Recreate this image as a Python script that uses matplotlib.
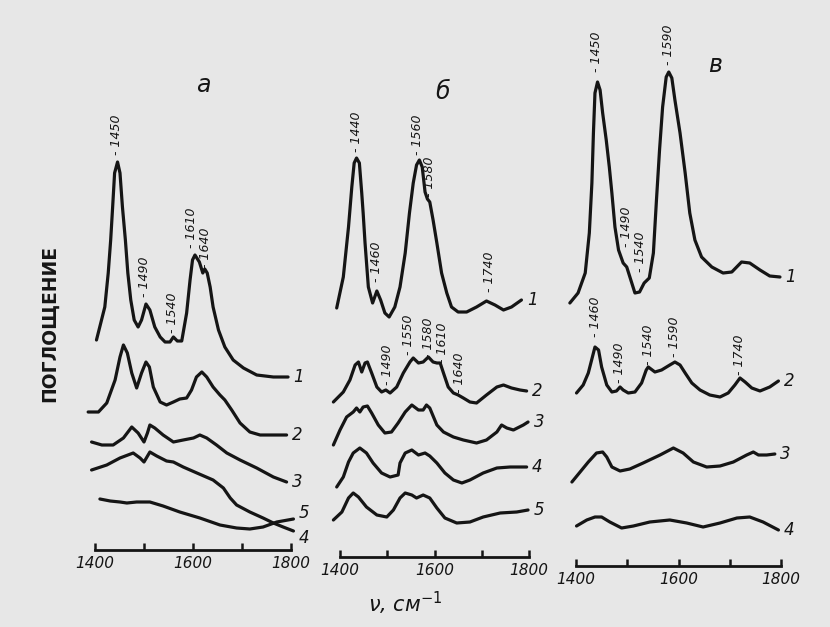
import matplotlib
matplotlib.use("Agg")
import matplotlib.pyplot as plt

# ---------- panel a ----------
a1_wn = [1403, 1420, 1427, 1432, 1436, 1440, 1446, 1451, 1456, 1462, 1467, 1473, 1480, 1488, 1495, 1504, 1512,
         1522, 1533, 1543, 1553, 1560, 1568, 1577, 1587, 1594, 1599, 1604, 1613, 1620, 1624, 1629, 1635, 1641,
         1652, 1665, 1682, 1703, 1730, 1764, 1794]
a1 = [210, 243, 277, 310, 343, 377, 388, 377, 343, 310, 277, 250, 230, 223, 230, 246, 240,
      223, 213, 208, 208, 213, 209, 209, 237, 270, 290, 295, 288, 277, 281, 277, 263, 243,
      220, 203, 190, 182, 175, 173, 173]
a2_wn = [1386, 1407, 1424, 1441, 1451, 1458, 1466, 1475, 1485, 1495, 1504, 1511, 1519, 1533, 1546, 1560, 1573,
         1587, 1597, 1607, 1618, 1628, 1641, 1655, 1665, 1679, 1696, 1716, 1737, 1764, 1791]
a2 = [138, 138, 147, 170, 193, 205, 197, 177, 162, 177, 188, 183, 163, 148, 145, 148, 151,
      152, 160, 173, 178, 173, 163, 155, 150, 140, 127, 118, 115, 115, 115]
a3_wn = [1393, 1414, 1437, 1458, 1475, 1488, 1500, 1507, 1512, 1522, 1539, 1560, 1580, 1601, 1614, 1628, 1648,
         1669, 1696, 1730, 1764, 1791]
a3 = [108, 105, 105, 112, 123, 117, 108, 117, 125, 122, 115, 108, 110, 112, 115, 112, 105,
      97, 90, 82, 73, 68]
a4_wn = [1393, 1424, 1451, 1478, 1492, 1500, 1512, 1526, 1546, 1560, 1580, 1608, 1641, 1662, 1676, 1689, 1716,
         1743, 1764, 1784, 1805]
a4 = [80, 85, 92, 97, 92, 88, 98, 94, 89, 88, 83, 77, 70, 62, 52, 45, 38,
      32, 27, 23, 19]
a5_wn = [1410, 1431, 1451, 1465, 1485, 1512, 1539, 1573, 1614, 1655, 1689, 1716, 1743, 1771, 1805]
a5 = [51, 49, 48, 47, 48, 48, 44, 38, 32, 25, 22, 21, 23, 28, 31]
a_marks = [("1450", 1443, 395), ("1490", 1502, 253), ("1540", 1558, 217),
           ("1610", 1597, 302), ("1640", 1626, 282)]
a_num_dy = [0, 0, 0, -5, 4]

# ---------- panel б ----------
b1_wn = [1393, 1407, 1418, 1425, 1430, 1435, 1441, 1446, 1449, 1453, 1460, 1469, 1478, 1486, 1495, 1504, 1516,
         1527, 1538, 1547, 1555, 1562, 1568, 1574, 1580, 1585, 1590, 1597, 1605, 1615, 1626, 1636, 1650,
         1668, 1689, 1710, 1728, 1746, 1763, 1784]
b1 = [249, 280, 330, 370, 394, 399, 394, 364, 344, 314, 270, 254, 266, 257, 244, 240, 250,
      270, 304, 344, 374, 392, 397, 390, 365, 358, 355, 337, 314, 284, 264, 250, 245,
      245, 250, 256, 252, 247, 250, 257]
b2_wn = [1386, 1407, 1421, 1432, 1439, 1446, 1453, 1458, 1467, 1478, 1488, 1497, 1506, 1520, 1534, 1548, 1555,
         1566, 1576, 1587, 1597, 1605, 1612, 1619, 1629, 1640, 1650, 1661, 1675, 1689, 1710, 1732, 1746,
         1763, 1781, 1795]
b2 = [155, 165, 177, 192, 195, 185, 194, 195, 184, 170, 165, 167, 164, 170, 184, 195, 199,
      194, 195, 200, 195, 194, 194, 184, 170, 164, 162, 159, 155, 154, 162, 170, 172,
      169, 167, 166]
b3_wn = [1386, 1400, 1414, 1428, 1435, 1442, 1449, 1458, 1467, 1481, 1495, 1509, 1523, 1538, 1552, 1566, 1576,
         1583, 1590, 1605, 1619, 1640, 1661, 1689, 1710, 1732, 1742, 1753, 1767, 1788, 1798]
b3 = [112, 127, 140, 145, 149, 145, 150, 151, 144, 132, 124, 125, 134, 145, 152, 147, 147,
      152, 149, 132, 125, 120, 117, 114, 117, 125, 132, 129, 127, 132, 135]
b4_wn = [1393, 1407, 1418, 1428, 1442, 1456, 1470, 1488, 1506, 1523, 1527, 1538, 1552, 1566, 1580, 1590, 1605,
         1622, 1640, 1658, 1675, 1703, 1732, 1760, 1795]
b4 = [70, 80, 95, 104, 109, 104, 94, 84, 80, 82, 94, 104, 107, 102, 104, 101, 94,
      84, 77, 74, 77, 84, 89, 90, 90]
b5_wn = [1386, 1404, 1418, 1428, 1439, 1456, 1478, 1499, 1513, 1527, 1538, 1552, 1562, 1576, 1590, 1605, 1622,
         1647, 1675, 1703, 1739, 1774, 1798]
b5 = [37, 45, 59, 64, 60, 50, 42, 40, 47, 59, 64, 62, 59, 62, 59, 49, 39,
      34, 35, 40, 44, 45, 47]
b_marks = [("1440", 1434, 405), ("1460", 1478, 275), ("1560", 1564, 402), ("1580", 1589, 360),
           ("1740", 1716, 265), ("1490", 1500, 172), ("1550", 1546, 202), ("1580", 1588, 199),
           ("1610", 1616, 194), ("1640", 1652, 164)]
b_num_dy = [0, 0, 0, 0, 0]

# ---------- panel в ----------
c1_wn = [1388, 1404, 1418, 1426, 1431, 1434, 1437, 1442, 1447, 1452, 1459, 1465, 1470, 1476, 1483, 1492, 1499,
         1507, 1515, 1524, 1533, 1543, 1551, 1557, 1563, 1569, 1576, 1581, 1587, 1593, 1603, 1613, 1622,
         1632, 1645, 1665, 1687, 1704, 1723, 1739, 1759, 1778, 1798]
c1 = [263, 273, 293, 333, 383, 433, 473, 484, 476, 453, 426, 399, 373, 339, 316, 303, 299,
      286, 273, 274, 283, 288, 313, 366, 416, 459, 489, 494, 488, 466, 433, 393, 353,
      326, 309, 299, 293, 294, 304, 303, 296, 290, 289]
c2_wn = [1401, 1414, 1424, 1432, 1437, 1444, 1450, 1460, 1470, 1479, 1486, 1492, 1502, 1515, 1528, 1537, 1541,
         1554, 1567, 1583, 1593, 1603, 1613, 1626, 1642, 1661, 1681, 1697, 1710, 1720, 1730, 1743, 1759,
         1778, 1795]
c2 = [173, 181, 193, 209, 219, 216, 199, 181, 174, 175, 179, 176, 173, 174, 183, 196, 199,
      194, 196, 201, 204, 201, 193, 183, 176, 171, 169, 173, 181, 188, 184, 178, 175,
      179, 185]
c3_wn = [1392, 1408, 1424, 1440, 1452, 1460, 1470, 1486, 1505, 1531, 1564, 1590, 1609, 1629, 1655, 1681, 1707,
         1733, 1746, 1756, 1772, 1788]
c3 = [84, 94, 104, 113, 114, 109, 99, 95, 97, 103, 111, 118, 113, 104, 99, 100, 104,
      111, 114, 111, 111, 112]
c4_wn = [1401, 1421, 1437, 1450, 1466, 1489, 1512, 1544, 1583, 1616, 1648, 1681, 1714, 1739, 1765, 1795]
c4 = [40, 46, 49, 49, 44, 38, 40, 44, 46, 43, 39, 43, 48, 49, 44, 36]
c_marks = [("1450", 1440, 494), ("1590", 1580, 501), ("1490", 1499, 319), ("1540", 1526, 294),
           ("1460", 1439, 229), ("1490", 1484, 183), ("1540", 1541, 201), ("1590", 1593, 209),
           ("1740", 1719, 191)]
c_num_dy = [0, 0, 0, 0]

W, H = 830, 627
bg = "#e7e7e7"
ink = "#151515"

fig = plt.figure(figsize=(W / 100, H / 100), dpi=100, facecolor=bg)


def panel(px0, px1, py_axis, left, right):
    # px0/px1: pixel columns of 1400 and 1800, py_axis: pixel row of the axis line
    ax = fig.add_axes([left / W, 0, (right - left) / W, 1])
    ax.patch.set_visible(False)
    k = 400 / (px1 - px0)
    ax.set_xlim(1400 + (left - px0) * k, 1400 + (right - px0) * k)
    ax.set_ylim(py_axis - H, py_axis)
    for s in ["top", "right", "left"]:
        ax.spines[s].set_visible(False)
    ax.spines["bottom"].set_position(("data", 0))
    ax.spines["bottom"].set_bounds(1400, 1800)
    ax.spines["bottom"].set_linewidth(2)
    ax.spines["bottom"].set_color(ink)
    ax.set_yticks([])
    ax.set_xticks([1400, 1500, 1600, 1700, 1800])
    ax.set_xticklabels(["1400", "", "1600", "", "1800"], fontsize=11, style="italic", color=ink)
    ax.tick_params(axis="x", direction="in", length=5, width=1.8, color=ink, pad=4)
    return ax


def curves(ax, data, num_dy):
    for n, (wn, y) in enumerate(data, start=1):
        ax.plot(wn, y, color=ink, lw=2.3, solid_capstyle="round", solid_joinstyle="round")
        ax.annotate(str(n), xy=(wn[-1], y[-1]), xytext=(4, num_dy[n - 1]), textcoords="offset points",
                    va="center", ha="left", fontsize=12, style="italic", color=ink)


def marks(ax, items):
    for lab, wn, y in items:
        ax.text(wn, y, "- " + lab, rotation=90, ha="center", va="bottom",
                fontsize=9, style="italic", color=ink)


axa = panel(95, 291, 550, 60, 325)
curves(axa, [(a1_wn, a1), (a2_wn, a2), (a3_wn, a3), (a4_wn, a4), (a5_wn, a5)], a_num_dy)
marks(axa, a_marks)
axa.text(1620, 465, "а", fontsize=17, style="italic", ha="center", va="center", color=ink)

axb = panel(340, 529, 557, 325, 560)
curves(axb, [(b1_wn, b1), (b2_wn, b2), (b3_wn, b3), (b4_wn, b4), (b5_wn, b5)], b_num_dy)
marks(axb, b_marks)
axb.text(1618, 465, "б", fontsize=17, style="italic", ha="center", va="center", color=ink)

axc = panel(576, 781, 566, 560, 830)
curves(axc, [(c1_wn, c1), (c2_wn, c2), (c3_wn, c3), (c4_wn, c4)], c_num_dy)
marks(axc, c_marks)
axc.text(1671, 501, "в", fontsize=17, style="italic", ha="center", va="center", color=ink)

fig.text(50 / W, 1 - 323 / H, "ПОГЛОЩЕНИЕ", rotation=90, ha="center", va="center",
         fontsize=13.5, fontweight="bold", color=ink)
fig.text(405 / W, 1 - 603 / H, "ν, см$^{-1}$", ha="center", va="center",
         fontsize=15, style="italic", color=ink)

fig.savefig("out.png", dpi=100, facecolor=bg)
